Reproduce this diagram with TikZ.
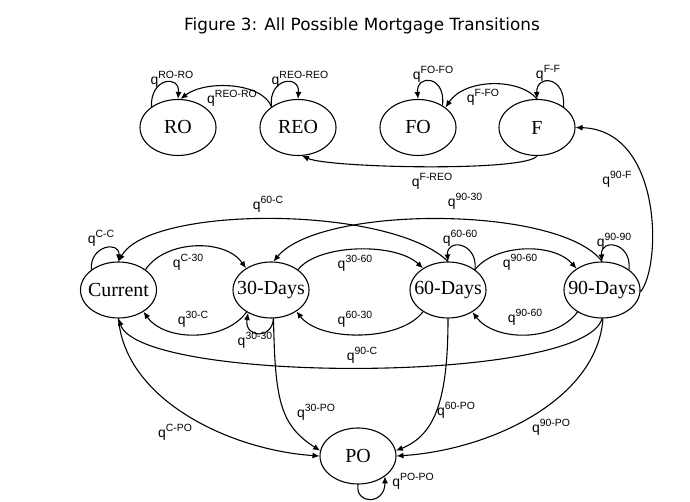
\documentclass[tikz,border=0pt]{standalone}
\usepackage{fontspec}
\usepackage{tikz}
\usetikzlibrary{arrows.meta}
\usetikzlibrary{shapes}
\newfontfamily\serifst{Liberation Serif}
\newfontfamily\sanslbl{Liberation Sans}
\newfontfamily\sanstitle{DejaVu Sans}
\newcommand{\qlab}[1]{q\raisebox{6bp}{\fontsize{10.5}{11}\selectfont #1}}
\begin{document}
\begin{tikzpicture}[>={Latex[length=7bp,width=6bp]},line join=bevel,line width=1.1pt,
  state/.style={ellipse,draw,minimum width=76bp,minimum height=56bp,inner sep=0pt,
    font=\serifst\fontsize{20}{21}\selectfont},
  lbl/.style={inner sep=0pt,font=\sanslbl\fontsize{14}{15}\selectfont}]
\useasboundingbox (0bp,0bp) rectangle (690bp,502bp);
%%
\node (title) at (362bp,476bp) [font=\sanstitle\fontsize{16.9}{18}\selectfont] {Figure 3: All Possible Mortgage Transitions};
%
\node (node_RO) at (178bp,374.5bp) [state] {\makebox[0pt]{RO}};
  \node (node_REO) at (298bp,374.5bp) [state] {\makebox[0pt]{REO}};
  \node (node_FO) at (418bp,374.5bp) [state] {\makebox[0pt]{FO}};
  \node (node_F) at (537bp,374.5bp) [state] {\makebox[0pt]{F}};
  \node (node_C) at (118.5bp,212bp) [state] {\makebox[0pt]{Current}};
  \node (node_30) at (271bp,212bp) [state] {\makebox[0pt]{30-Days}};
  \node (node_60) at (448bp,212bp) [state] {\makebox[0pt]{60-Days}};
  \node (node_90) at (602bp,212bp) [state] {\makebox[0pt]{90-Days}};
  \node (node_PO) at (358bp,46bp) [state] {\makebox[0pt]{PO}};
%
  \draw [black,->] (node_RO.142) ..controls (150bp,424bp) and (180bp,428bp)  .. (node_RO.north);
  \draw [black,->] (node_REO.142) ..controls (262bp,420bp) and (205bp,422bp)  .. (node_RO.85);
  \draw [black,->] (node_REO.142) ..controls (268bp,424bp) and (300bp,428bp)  .. (node_REO.north);
  \draw [black,->] (node_FO.42) ..controls (446bp,427bp) and (416bp,428bp)  .. (node_FO.north);
  \draw [black,->] (node_F.north) ..controls (520bp,424bp) and (465bp,424bp)  .. (node_FO.36);
  \draw [black,->] (node_F.38) ..controls (566bp,426bp) and (536bp,428bp)  .. (node_F.north);
  \draw [black,->] (node_F.south) ..controls (525bp,330bp) and (330bp,334bp)  .. (node_REO.-82);
  \draw [black,->] (node_90.-3) ..controls (662bp,237bp) and (662bp,372bp)  .. (node_F.east);
  \draw [black,->] (node_C.143) ..controls (89bp,256bp) and (120bp,262bp)  .. (node_C.north);
  \draw [black,->] (node_C.37) ..controls (165bp,262bp) and (225bp,264bp)  .. (node_30.139);
  \draw [black,->] (node_30.222) ..controls (225bp,160bp) and (165bp,160bp)  .. (node_C.319);
  \draw [black,->] (node_30.-85) ..controls (272bp,162bp) and (244bp,164bp)  .. (node_30.225);
  \draw [black,->] (node_30.37) ..controls (318bp,258bp) and (395bp,260bp)  .. (node_60.139);
  \draw [black,->] (node_60.221) ..controls (400bp,160bp) and (320bp,160bp)  .. (node_30.320);
  \draw [black,->] (node_60.37) ..controls (478bp,260bp) and (446bp,264bp)  .. (node_60.north);
  \draw [black,->] (node_60.37) ..controls (495bp,258bp) and (553bp,260bp)  .. (node_90.140);
  \draw [black,->] (node_90.222) ..controls (555bp,160bp) and (495bp,160bp)  .. (node_60.318);
  \draw [black,->] (node_90.37) ..controls (632bp,260bp) and (600bp,264bp)  .. (node_90.north);
  \draw [black,->] (node_60.north) ..controls (390bp,297bp) and (150bp,297bp)  .. (node_C.north);
  \draw [black,->] (node_90.north) ..controls (560bp,297bp) and (320bp,297bp)  .. (node_30.85);
  \draw [black,->] (node_90.south) ..controls (585bp,118bp) and (140bp,118bp)  .. (node_C.south);
  \draw [black,->] (node_C.south) ..controls (125bp,102bp) and (230bp,52bp)  .. (node_PO.west);
  \draw [black,->] (node_30.-85) ..controls (275bp,102bp) and (280bp,77bp)  .. (node_PO.172);
  \draw [black,->] (node_60.south) ..controls (448bp,102bp) and (435bp,67bp)  .. (node_PO.8);
  \draw [black,->] (node_90.-88) ..controls (597bp,102bp) and (490bp,52bp)  .. (node_PO.east);
  \draw [black,->] (node_PO.south) ..controls (355bp,-3bp) and (385bp,-3bp)  .. (node_PO.-37);
%
  \node (lbl_RO_RO) at (172bp,423bp) [lbl] {\qlab{RO-RO}};
  \node (lbl_REO_RO) at (232bp,404bp) [lbl] {\qlab{REO-RO}};
  \node (lbl_REO_REO) at (300bp,423bp) [lbl] {\qlab{REO-REO}};
  \node (lbl_FO_FO) at (433bp,428bp) [lbl] {\qlab{FO-FO}};
  \node (lbl_F_FO) at (483bp,405bp) [lbl] {\qlab{F-FO}};
  \node (lbl_F_F) at (548bp,429bp) [lbl] {\qlab{F-F}};
  \node (lbl_F_REO) at (432bp,321bp) [lbl] {\qlab{F-REO}};
  \node (lbl_90_F) at (617bp,323bp) [lbl] {\qlab{90-F}};
  \node (lbl_60_C) at (268bp,298bp) [lbl] {\qlab{60-C}};
  \node (lbl_90_30) at (465bp,301bp) [lbl] {\qlab{90-30}};
  \node (lbl_C_C) at (101bp,264bp) [lbl] {\qlab{C-C}};
  \node (lbl_C_30) at (188bp,240bp) [lbl] {\qlab{C-30}};
  \node (lbl_30_60) at (355bp,239bp) [lbl] {\qlab{30-60}};
  \node (lbl_60_60) at (460bp,264bp) [lbl] {\qlab{60-60}};
  \node (lbl_60_90) at (520bp,240bp) [lbl] {\qlab{90-60}};
  \node (lbl_90_90) at (614bp,261bp) [lbl] {\qlab{90-90}};
  \node (lbl_30_C) at (193bp,183bp) [lbl] {\qlab{30-C}};
  \node (lbl_30_30) at (255bp,162bp) [lbl] {\qlab{30-30}};
  \node (lbl_60_30) at (355bp,183bp) [lbl] {\qlab{60-30}};
  \node (lbl_90_60) at (525bp,185bp) [lbl] {\qlab{90-60}};
  \node (lbl_90_C) at (362bp,147bp) [lbl] {\qlab{90-C}};
  \node (lbl_30_PO) at (316bp,90bp) [lbl] {\qlab{30-PO}};
  \node (lbl_60_PO) at (456bp,92bp) [lbl] {\qlab{60-PO}};
  \node (lbl_C_PO) at (175bp,70bp) [lbl] {\qlab{C-PO}};
  \node (lbl_90_PO) at (551bp,75bp) [lbl] {\qlab{90-PO}};
  \node (lbl_PO_PO) at (413bp,21bp) [lbl] {\qlab{PO-PO}};
%
\end{tikzpicture}
\end{document}
